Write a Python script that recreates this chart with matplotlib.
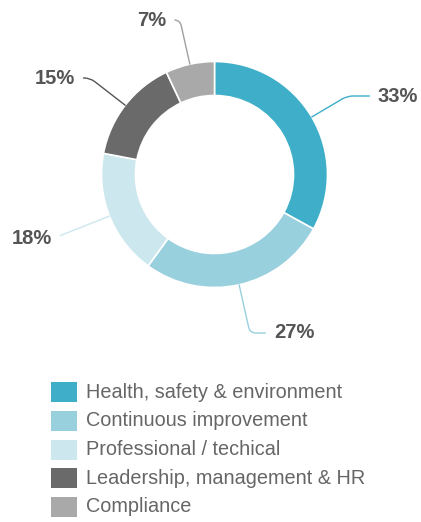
import numpy as np
import matplotlib
matplotlib.use('Agg')
import matplotlib.pyplot as plt
from matplotlib.patches import Rectangle

plt.rcParams['font.family'] = ['Liberation Sans', 'DejaVu Sans']

categories = ['Health, safety & environment', 'Continuous improvement',
              'Professional / techical', 'Leadership, management & HR', 'Compliance']
values = [33, 27, 18, 15, 7]
colors = ['#3eaec9', '#98d0de', '#cde7ee', '#6a6a6a', '#a9a9a9']
line_colors = ['#3eaec9', '#98d0de', '#cde7ee', '#555555', '#a0a0a0']
# label centres (px from top-left)
label_pos = [(398, 96), (294, 333), (32, 238), (55, 78), (152, 20)]

W, H = 421, 522
fig = plt.figure(figsize=(W/100, H/100), dpi=100)
ax = fig.add_axes([0, 0, 1, 1])

cx, cy, R = 214.5, H - 174.5, 113
wedges, _ = ax.pie(values, colors=colors, startangle=90, counterclock=False,
                   radius=R, center=(cx, cy),
                   wedgeprops=dict(width=34, edgecolor='white', linewidth=1.2))
ax.set_xlim(0, W)
ax.set_ylim(0, H)
ax.set_aspect('equal')
ax.axis('off')

for w, v, (lx, ly), lc in zip(wedges, values, label_pos, line_colors):
    ang = (w.theta1 + w.theta2) / 2
    px = cx + R*np.cos(np.radians(ang))
    py = cy + R*np.sin(np.radians(ang))
    ax.annotate(f'{v}%', xy=(px, py), xytext=(lx, H - ly),
                ha='center', va='center', fontsize=14.5, fontweight='bold',
                color='#555555',
                arrowprops=dict(arrowstyle='-', color=lc, lw=1.0,
                                shrinkA=4, shrinkB=0,
                                connectionstyle=f'angle,angleA=0,angleB={ang},rad=6'))

# legend
for i, (cat, c) in enumerate(zip(categories, colors)):
    yc = 392 + i*28.75
    ax.add_patch(Rectangle((51, H - yc - 10), 26, 20, facecolor=c, edgecolor='none'))
    ax.text(86, H - yc, cat, ha='left', va='center', fontsize=14.3, color='#666666')

fig.savefig('out.png', dpi=100)
